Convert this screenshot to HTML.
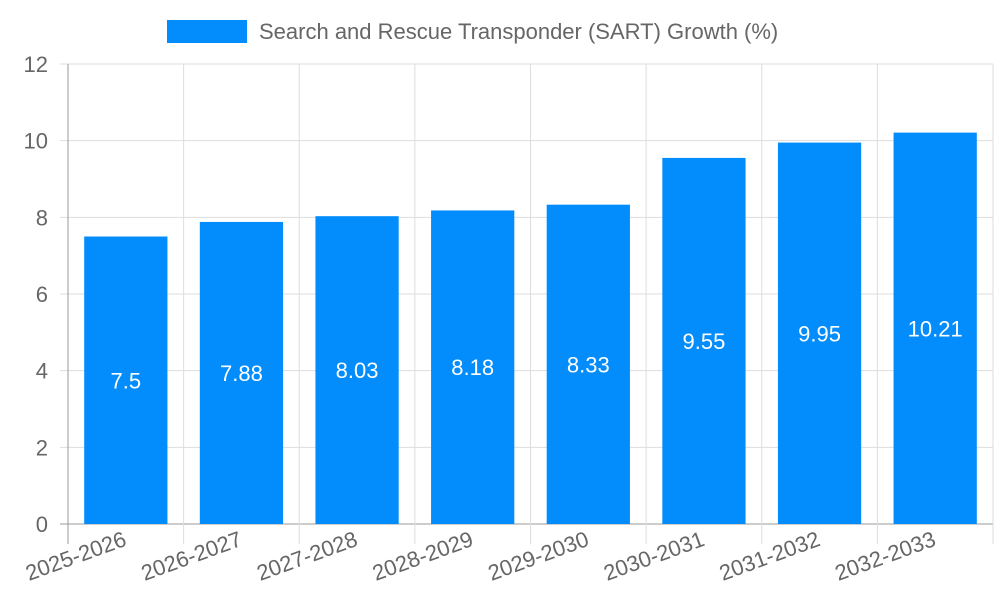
<!DOCTYPE html>
<html><head><meta charset="utf-8"><style>
body{margin:0;background:#fff}
svg{display:block;font-family:"Liberation Sans",sans-serif}
</style></head><body>
<svg id="chart" width="1000" height="600">
<g id="legend">
<rect x="167" y="20" width="80" height="23" fill="#038cfc"/>
<text x="259" y="39" font-size="22" fill="#666">Search and Rescue Transponder (SART) Growth (%)</text>
</g>
<g id="grid"></g><g id="bars"></g><g id="axes"></g>
</svg>
<script>
const categories=["2025-2026","2026-2027","2027-2028","2028-2029","2029-2030","2030-2031","2031-2032","2032-2033"];
const values=[7.5,7.88,8.03,8.18,8.33,9.55,9.95,10.21];
const yTicks=[0,2,4,6,8,10,12];
const NS="http://www.w3.org/2000/svg";
const L=68,R=993,T=64,B=524,yMax=12;
const y=v=>B-(v/yMax)*(B-T);
const band=(R-L)/categories.length;
const x=i=>L+i*band;
function mk(tag,attrs,parent){const e=document.createElementNS(NS,tag);for(const k in attrs)e.setAttribute(k,attrs[k]);parent.appendChild(e);return e;}
const grid=document.getElementById('grid'),bars=document.getElementById('bars'),axes=document.getElementById('axes');
yTicks.forEach(t=>{
  const g=mk('line',{x1:L-8,x2:R,y1:y(t),y2:y(t),stroke:t===0?'#999':'#ddd','stroke-width':1},grid);
  
  
  const tx=mk('text',{x:L-20,y:y(t)+8,'text-anchor':'end','font-size':22,fill:'#666'},axes);
  tx.textContent=t;
  
  
});
for(let i=0;i<=categories.length;i++){
  const g=mk('line',{x1:x(i),x2:x(i),y1:T,y2:B+20,stroke:i===0?'#999':'#ddd','stroke-width':1},grid);
  
  
}
categories.forEach((c,i)=>{
  const bw=band*0.72,bx=x(i)+(band-bw)/2;
  const r=mk('rect',{x:bx,y:y(values[i]),width:bw,height:B-y(values[i]),fill:'#038cfc'},bars);
  
  
  const vt=mk('text',{x:x(i)+band/2,y:(y(values[i])+B)/2+8,'text-anchor':'middle','font-size':22,fill:'#fff'},bars);
  vt.textContent=values[i];
  
  
  const cx=x(i)+band/2+2,cy=545;
  const lt=mk('text',{x:cx,y:cy,'text-anchor':'end','font-size':22,fill:'#666',transform:`rotate(-20 ${cx} ${cy})`},axes);
  lt.textContent=c;
  
  
});
</script>
</body></html>
